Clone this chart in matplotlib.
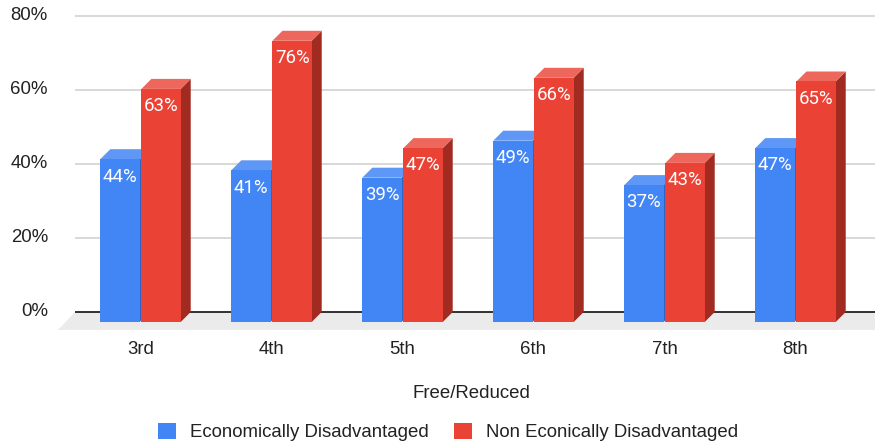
import matplotlib.pyplot as plt
from matplotlib.patches import Polygon, Rectangle, Patch

grades = ['3rd', '4th', '5th', '6th', '7th', '8th']
econ_dis = [44, 41, 39, 49, 37, 47]
non_econ_dis = [63, 76, 47, 66, 43, 65]
y_ticks = [0, 20, 40, 60, 80]
series_names = ['Economically Disadvantaged', 'Non Econically Disadvantaged']

# colours: front, top, side
BLUE = ('#4285f4', '#5e97f6', '#3063c4')
RED = ('#ea4335', '#ee675c', '#a12a21')
TEXT = '#222222'
FS = 13.4

# layout of the original picture (pixels): 0% at y=312, 3.7 px per %, 131 px per category
W, H = 875, 443
PX_CAT = 131.0
PX_PCT = 3.7
X0_PX = 140.5
BASE_PX = 312.0

DX = 10 / PX_CAT       # bar depth offset
DY = 10 / PX_PCT
BAR_W = 0.30
GAP = 0.007


def to_data_x(px):
    return (px - X0_PX) / PX_CAT


def to_data_y(py):
    return (BASE_PX - py) / PX_PCT


def bar3d(ax, x, v, colors):
    front, top, side = colors
    ax.add_patch(Polygon([(x + BAR_W, -DY), (x + BAR_W + DX, 0), (x + BAR_W + DX, v), (x + BAR_W, v - DY)],
                         closed=True, facecolor=side, lw=0, zorder=3))
    ax.add_patch(Polygon([(x, v - DY), (x + DX, v), (x + BAR_W + DX, v), (x + BAR_W, v - DY)],
                         closed=True, facecolor=top, lw=0, zorder=3))
    ax.add_patch(Rectangle((x, -DY), BAR_W, v, facecolor=front, lw=0, zorder=3))
    ax.text(x + BAR_W / 2, v - DY - 4.7, f'{v}%', ha='center', va='center', color='white',
            fontsize=FS, family='Roboto', zorder=4)


fig = plt.figure(figsize=(W / 100, H / 100), dpi=100)
ax = fig.add_axes([0, 0, 1, 1])
ax.set_xlim(to_data_x(0), to_data_x(W))
ax.set_ylim(to_data_y(H), to_data_y(0))
ax.axis('off')

x_left = -0.5
x_right = to_data_x(W + 20)

# floor
fdx = 17 / PX_CAT
fdy = 18 / PX_PCT
ax.add_patch(Polygon([(x_left, 0), (x_right, 0), (x_right - fdx, -fdy), (x_left - fdx, -fdy)],
                     closed=True, facecolor='#ebebeb', lw=0, zorder=0))

# gridlines and baseline
ax.hlines(y_ticks[1:], x_left, x_right, color='#d6d6d6', lw=1.3, zorder=1)
ax.hlines(0, x_left, x_right, color=TEXT, lw=1.3, zorder=1)

for t in y_ticks:
    ax.text(to_data_x(48), t, f'{t}%', ha='right', va='center', fontsize=FS,
            family='Liberation Sans', color=TEXT)

for i, (b, r) in enumerate(zip(econ_dis, non_econ_dis)):
    bar3d(ax, i - BAR_W - GAP, b, BLUE)
    bar3d(ax, i + GAP, r, RED)
    ax.text(i, to_data_y(350), grades[i], ha='center', va='center', fontsize=FS,
            family='Liberation Sans', color=TEXT)

ax.text(to_data_x(471), to_data_y(393), 'Free/Reduced', ha='center', va='center', fontsize=FS,
        family='Liberation Sans', color=TEXT)

handles = [Patch(facecolor=BLUE[0]), Patch(facecolor=RED[0])]
fig.legend(handles, series_names, loc='center', bbox_to_anchor=(448 / W, 1 - 432 / H), ncol=2,
           frameon=False, handlelength=0.97, handleheight=0.97, handletextpad=0.75, columnspacing=1.4,
           borderpad=0, prop={'family': 'Liberation Sans', 'size': FS}, labelcolor=TEXT)

fig.savefig('out.png', dpi=100)
